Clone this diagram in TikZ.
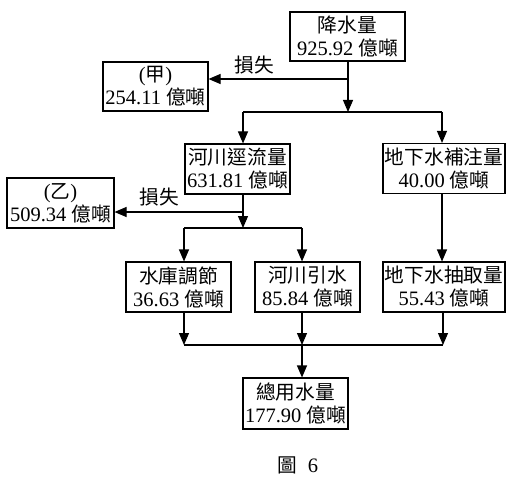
\documentclass[tikz,border=0pt]{standalone}
\usepackage{fontspec}
\setmainfont{Liberation Serif}
\newfontfamily\cjk{Noto Sans CJK TC}[Scale=0.96]
\usetikzlibrary{arrows.meta}
\begin{document}
\begin{tikzpicture}[x=1pt,y=-1pt,
  box/.style={draw,line width=1.1pt,rectangle,inner sep=0pt,align=center,
    font=\fontsize{20.5}{23}\selectfont},
  arr/.style={line width=1.1pt,-{Triangle[length=12pt,width=10pt]}},
  ln/.style={line width=1.1pt},
  lbl/.style={font=\fontsize{20.5}{23}\selectfont\cjk,inner sep=0pt}]
\useasboundingbox (0,0) rectangle (527,484);
% boxes
\node[box,minimum width=115pt,minimum height=49pt] (rain) at (347.5,36.5) {{\cjk 降水量}\\925.92 {\cjk 億噸}};
\node[box,minimum width=105pt,minimum height=49pt] (jia) at (155.5,86.5) {({\cjk 甲})\\254.11 {\cjk 億噸}};
\node[box,minimum width=105pt,minimum height=50pt] (runoff) at (237.5,169) {{\cjk 河川逕流量}\\631.81 {\cjk 億噸}};
\node[box,minimum width=122pt,minimum height=50pt] (recharge) at (444,168.5) {{\cjk 地下水補注量}\\40.00 {\cjk 億噸}};
\node[box,minimum width=107pt,minimum height=50pt] (yi) at (60.5,203) {({\cjk 乙})\\509.34 {\cjk 億噸}};
\node[box,minimum width=105pt,minimum height=50pt] (res) at (178.5,287) {{\cjk 水庫調節}\\36.63 {\cjk 億噸}};
\node[box,minimum width=105pt,minimum height=50pt] (div) at (307.5,287) {{\cjk 河川引水}\\85.84 {\cjk 億噸}};
\node[box,minimum width=122pt,minimum height=50pt] (pump) at (444,287) {{\cjk 地下水抽取量}\\55.43 {\cjk 億噸}};
\node[box,minimum width=105pt,minimum height=51pt] (total) at (295.5,403.5) {{\cjk 總用水量}\\177.90 {\cjk 億噸}};
\node[font=\fontsize{20.5}{23}\selectfont,inner sep=0pt] (cap) at (298,465) {{\cjk 圖}\ \ 6};
% junction coordinates
\coordinate (b1) at (348,79);
\coordinate (t1) at (348,112);
\coordinate (tl) at (243,112);
\coordinate (tr) at (442,112);
\coordinate (b2) at (243,212);
\coordinate (m1) at (243,228);
\coordinate (ml) at (184,228);
\coordinate (mr) at (302,228);
\coordinate (bl) at (184,345);
\coordinate (bm) at (302,345);
\coordinate (br) at (443,345);
% connectors
\draw[arr] (rain.south -| t1) -- (t1);
\draw[arr] (b1) -- (b1 -| jia.east);
\node[lbl] (loss1) at (254,65) {損失};
\draw[ln] (tl) -- (tr);
\draw[arr] (tl) -- (tl |- runoff.north);
\draw[arr] (tr) -- (tr |- recharge.north);
\draw[arr] (runoff.south -| m1) -- (m1);
\draw[arr] (b2) -- (b2 -| yi.east);
\node[lbl] (loss2) at (159,197) {損失};
\draw[ln] (ml) -- (mr);
\draw[arr] (ml) -- (ml |- res.north);
\draw[arr] (mr) -- (mr |- div.north);
\draw[arr] (recharge.south -| tr) -- (tr |- pump.north);
\draw[ln] (bl) -- (br);
\draw[arr] (res.south -| bl) -- (bl);
\draw[arr] (div.south -| bm) -- (bm);
\draw[arr] (pump.south -| br) -- (br);
\draw[arr] (bm) -- (bm |- total.north);
\end{tikzpicture}
\end{document}
